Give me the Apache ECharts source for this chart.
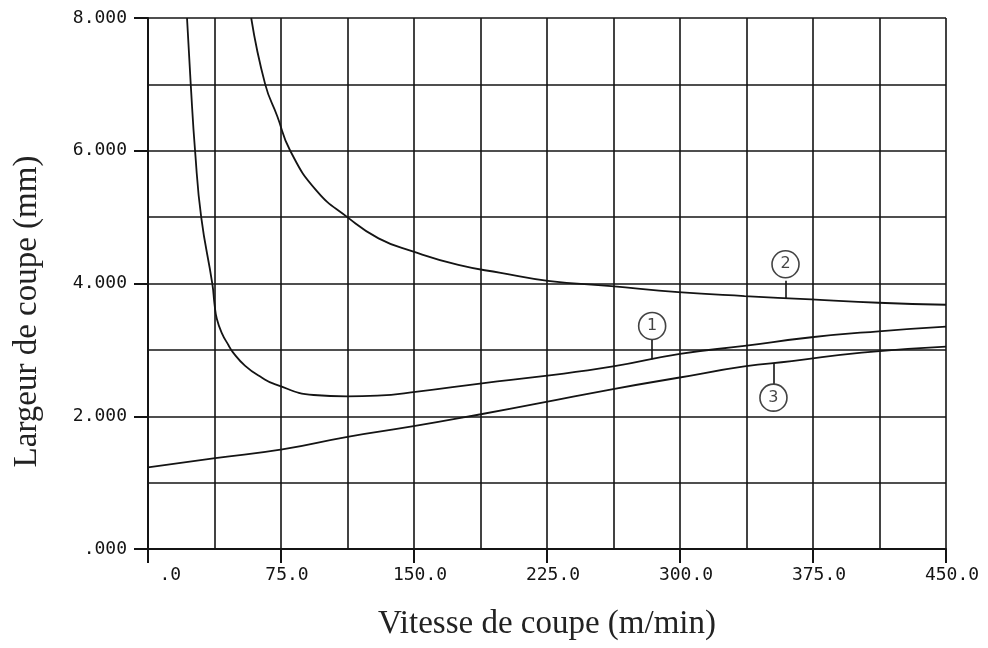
<!DOCTYPE html>
<html>
<head>
<meta charset="utf-8">
<script src="https://cdn.jsdelivr.net/npm/echarts@6/dist/echarts.min.js"></script>
<style>
  html, body { margin: 0; padding: 0; background: #ffffff; }
  #chart { width: 988px; height: 648px; }
</style>
</head>
<body>
<div id="chart"></div>
<script>
// ---- data ----
const xTickLabels = ['   .0', '75.0', '150.0', '225.0', '300.0', '375.0', '450.0'];
const yTickLabels = ['.000', '2.000', '4.000', '6.000', '8.000'];

// curve 1 (U-shaped)
const speed1 = [22, 24.1, 26.6, 30, 36.3, 37.5, 38.8, 41.7, 45.4, 47.7, 54.8, 64.3, 71.8, 93.4, 112.3, 129.3, 151.9, 189.4, 221.6, 262.3, 300, 336.3, 374.2, 412, 450];
const width1 = [8.0, 7.0, 5.98, 5.0, 3.99, 3.69, 3.47, 3.25, 3.07, 2.97, 2.76, 2.58, 2.48, 2.32, 2.30, 2.31, 2.37, 2.50, 2.60, 2.75, 2.94, 3.06, 3.19, 3.28, 3.35];

// curve 2 (decreasing)
const speed2 = [58.2, 66.1, 72.9, 80.2, 95, 112.4, 130, 149.7, 175, 198.9, 225.5, 261.2, 299, 336.4, 374, 412, 450];
const width2 = [8.0, 7.0, 6.52, 6.0, 5.4, 5.0, 4.68, 4.48, 4.28, 4.16, 4.04, 3.96, 3.87, 3.81, 3.76, 3.71, 3.68];

// curve 3 (rising)
const speed3 = [0, 37.9, 75.7, 112.5, 149.8, 187.7, 221.6, 262.3, 299, 336.3, 363, 402.5, 450];
const width3 = [1.23, 1.37, 1.50, 1.69, 1.85, 2.03, 2.20, 2.41, 2.58, 2.75, 2.83, 2.96, 3.05];

// curve labels (circled numbers) and their leader lines
const labelTexts = ['1', '2', '3'];
const labelX = [284.3, 359.5, 352.7];
const labelY = [3.36, 4.29, 2.28];
const leaderFrom = [2.86, 3.78, 2.80];
const leaderTo = [3.15, 4.04, 2.49];

const xTitle = 'Vitesse de coupe (m/min)';
const yTitle = 'Largeur de coupe (mm)';

// ---- chart ----
const ink = '#141414';
const zip = (xs, ys) => xs.map((x, i) => [x, ys[i]]);

const curveStyle = {
  type: 'line', showSymbol: false, symbol: 'none',
  smooth: 0.5,
  lineStyle: { color: ink, width: 1.8 },
  silent: true, z: 5
};

const leaderLines = labelX.map((x, i) => [
  { coord: [x, leaderFrom[i]] },
  { coord: [x, leaderTo[i]] }
]);

const chart = echarts.init(document.getElementById('chart'), null, { renderer: 'canvas' });
chart.setOption({
  backgroundColor: '#ffffff',
  animation: false,
  grid: { left: 148, right: 42, top: 18, bottom: 99, containLabel: false },
  xAxis: {
    type: 'value', min: 0, max: 450, interval: 75,
    name: xTitle, nameLocation: 'middle', nameGap: 59,
    nameTextStyle: { fontFamily: 'Liberation Serif', fontSize: 33, color: '#222' },
    axisLine: { show: true, onZero: false, lineStyle: { color: ink, width: 2 } },
    axisTick: { show: true, length: 14, lineStyle: { color: ink, width: 2 } },
    axisLabel: {
      margin: 17, fontFamily: 'DejaVu Sans Mono', fontSize: 18, color: ink,
      padding: [0, 0, 0, 12],
      formatter: v => xTickLabels[Math.round(v / 75)]
    },
    splitLine: { show: true, lineStyle: { color: ink, width: 1.6 } },
    minorTick: { show: false, splitNumber: 2 },
    minorSplitLine: { show: true, lineStyle: { color: ink, width: 1.6 } }
  },
  yAxis: {
    type: 'value', min: 0, max: 8, interval: 2,
    name: yTitle, nameLocation: 'middle', nameGap: 104, nameRotate: 90,
    nameTextStyle: { fontFamily: 'Liberation Serif', fontSize: 33, color: '#222', padding: [0, 56, 0, 0] },
    axisLine: { show: true, onZero: false, lineStyle: { color: ink, width: 2 } },
    axisTick: { show: true, length: 14, lineStyle: { color: ink, width: 2 } },
    axisLabel: {
      margin: 21, fontFamily: 'DejaVu Sans Mono', fontSize: 18, color: ink,
      formatter: v => yTickLabels[Math.round(v / 2)]
    },
    splitLine: { show: true, lineStyle: { color: ink, width: 1.6 } },
    minorTick: { show: false, splitNumber: 2 },
    minorSplitLine: { show: true, lineStyle: { color: ink, width: 1.6 } }
  },
  series: [
    Object.assign({ name: 'Courbe 1', data: zip(speed1, width1) }, curveStyle),
    Object.assign({ name: 'Courbe 2', data: zip(speed2, width2) }, curveStyle),
    Object.assign({ name: 'Courbe 3', data: zip(speed3, width3) }, curveStyle),
    {
      name: 'Repères', type: 'scatter', silent: true, z: 6,
      symbol: 'circle', symbolSize: 27,
      itemStyle: { color: '#ffffff', borderColor: ink, borderWidth: 1.6 },
      label: {
        show: true, position: 'inside', formatter: p => labelTexts[p.dataIndex],
        fontFamily: 'DejaVu Sans', fontSize: 16, color: ink
      },
      data: zip(labelX, labelY),
      markLine: {
        silent: true, symbol: 'none', label: { show: false },
        lineStyle: { color: ink, width: 1.6, type: 'solid' },
        data: leaderLines
      }
    }
  ]
});
</script>
</body>
</html>
